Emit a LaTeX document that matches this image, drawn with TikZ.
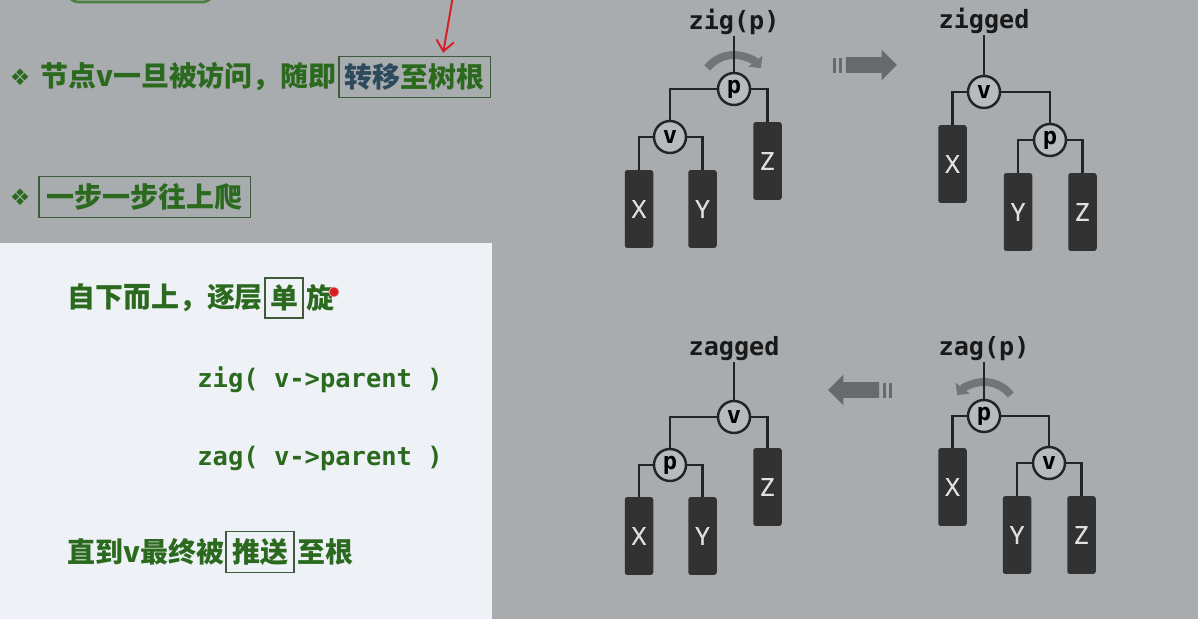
\documentclass[tikz,border=0pt]{standalone}
\usepackage{fontspec}
\usetikzlibrary{positioning}
\usetikzlibrary{arrows.meta}
\usetikzlibrary{shapes.arrows}
\newfontfamily\cjk{Noto Sans CJK SC}
\newfontfamily\code{DejaVu Sans Mono}
\newfontfamily\symf{DejaVu Sans}
\newfontfamily\subf{Open Sans}[FakeBold=1]
\definecolor{bgc}{RGB}{168,172,175}
\definecolor{panelc}{RGB}{238,242,247}
\definecolor{mgreen}{RGB}{43,106,30}
\definecolor{boxc}{RGB}{62,90,59}
\definecolor{linkc}{RGB}{44,74,92}
\definecolor{subc}{RGB}{50,50,50}
\definecolor{edgec}{RGB}{36,36,36}
\definecolor{keyc}{RGB}{184,187,189}
\definecolor{rotc}{RGB}{114,117,120}
\definecolor{goc}{RGB}{103,105,108}
\definecolor{penc}{RGB}{215,30,35}

\begin{document}
\begin{tikzpicture}[x=0.02cm, y=-0.02cm,
    txt/.style={inner sep=0pt, text=mgreen, font=\cjk\bfseries\fontsize{15.9}{18}\selectfont},
    boxed/.style={txt, draw=boxc, line width=0.9pt, inner xsep=0.12cm, inner ysep=0.14cm},
    cmd/.style={inner sep=0pt, text=mgreen, font=\code\bfseries\fontsize{14.5}{16}\selectfont},
    bullet/.style={inner sep=0pt, text=mgreen, font=\symf\fontsize{13}{13}\selectfont},
    lab/.style={inner sep=1pt, text=black!90, font=\code\bfseries\fontsize{14.3}{16}\selectfont},
    key/.style={draw=edgec, circle, line width=1.4pt, fill=keyc, minimum size=0.64cm, inner sep=0pt, font=\code\bfseries\fontsize{13.5}{13.5}\selectfont},
    sub/.style={fill=subc, rounded corners=1.5pt, minimum width=0.57cm, minimum height=1.56cm, inner sep=0pt, text=black!12, font=\subf\fontsize{14}{14}\selectfont},
    edge/.style={draw=edgec, line width=1.6pt},
    rot/.style={draw=rotc, line width=4.5pt, -{Triangle[length=5pt, width=10pt]}},
    go/.style={single arrow, fill=goc, minimum height=1.02cm, inner xsep=0pt, inner ysep=0.15cm, single arrow head extend=0.15cm},
    bar/.style={fill=goc, minimum width=0.06cm, minimum height=0.3cm, inner sep=0pt},
    penline/.style={draw=penc, line width=1.1pt, -{Straight Barb[length=6pt, width=10pt]}},
]
\useasboundingbox (0,0) rectangle (1198,619);
\clip (0,0) rectangle (1198,619);
\fill[bgc] (0,0) rectangle (1198,619);
\fill[panelc] (0,243) rectangle (492,619);
\draw[mgreen!85!white, line width=1.5pt, rounded corners=0.2cm] (68,-40) rectangle (213,2);

% left column
\node[bullet] (b1) at (20,77) {❖};
\node[txt, anchor=west] (t1) at (40,77) {节点v一旦被访问，随即};
\node[boxed, right=0.02cm of t1] (k1) {\textcolor{linkc}{转移}至树根};
\coordinate (pen0) at (453,-4);
\coordinate (pen1) at ([xshift=0.57cm, yshift=0.06cm]k1.north);
\draw[penline] (pen0) -- (pen1);

\node[bullet] (b2) at (20,197) {❖};
\node[boxed, anchor=west, inner xsep=0.16cm] (k2) at (38,197) {一步一步往上爬};

\node[txt, anchor=west] (t3) at (67,298) {自下而上，逐层};
\node[boxed, right=0.02cm of t3, inner xsep=0.1cm] (k3) {单};
\node[txt, right=0.04cm of k3] (t4) {旋};
\node[fill=penc, draw=penc!40, circle, minimum size=0.2cm, inner sep=0pt] (dot) at (334,292) {};

\node[cmd, anchor=west] (c1) at (197,380) {zig( v->parent )};
\node[cmd, anchor=west] (c2) at (197,458) {zag( v->parent )};

\node[txt, anchor=west] (t5) at (67,552) {直到v最终被};
\node[boxed, right=0.02cm of t5] (k5) {推送};
\node[txt, right=0.04cm of k5] (t6) {至根};

% zig(p)
\node[lab, anchor=base] (lzig) at (734,29) {zig(p)};
\node[key] (p1) at (734,89) {p};
\node[key] (v1) at (670,137) {v};
\node[sub] (x1) at (639,209) {X};
\node[sub] (y1) at (702.5,209) {Y};
\node[sub] (z1) at (767.5,161) {Z};
\draw[rot] ([shift={(-142:34)}]p1.center) arc[start angle=-142, end angle=-38, radius=34];
\draw[edge] (lzig) -- (p1);
\draw[edge] (p1) -| (v1);
\draw[edge] (p1) -| (z1);
\draw[edge] (v1) -| (x1);
\draw[edge] (v1) -| (y1);

\node[go] (go1) at (867.5,65) {};
\node[bar, left=0.06cm of go1.tail] (go1a) {};
\node[bar, left=0.06cm of go1a] (go1b) {};

% zigged
\node[lab, anchor=base] (lzigd) at (984,28) {zigged};
\node[key] (v2) at (984,92) {v};
\node[key] (p2) at (1050,140) {p};
\node[sub] (x2) at (952.5,164) {X};
\node[sub] (y2) at (1018,212) {Y};
\node[sub] (z2) at (1082.5,212) {Z};
\draw[edge] (lzigd) -- (v2);
\draw[edge] (v2) -| (x2);
\draw[edge] (v2) -| (p2);
\draw[edge] (p2) -| (y2);
\draw[edge] (p2) -| (z2);

% zagged
\node[lab, anchor=base] (lzagd) at (734,355) {zagged};
\node[key] (v3) at (734,417) {v};
\node[key] (p3) at (670,465) {p};
\node[sub] (x3) at (639,536) {X};
\node[sub] (y3) at (702.5,536) {Y};
\node[sub] (z3) at (767.5,487) {Z};
\draw[edge] (lzagd) -- (v3);
\draw[edge] (v3) -| (p3);
\draw[edge] (v3) -| (z3);
\draw[edge] (p3) -| (x3);
\draw[edge] (p3) -| (y3);

\node[go, shape border rotate=180] (go2) at (857.5,390) {};
\node[bar, right=0.06cm of go2.tail] (go2a) {};
\node[bar, right=0.06cm of go2a] (go2b) {};

% zag(p)
\node[lab, anchor=base] (lzag) at (984,355) {zag(p)};
\node[key] (p4) at (984,416) {p};
\node[key] (v4) at (1049,463) {v};
\node[sub] (x4) at (952.5,487) {X};
\node[sub] (y4) at (1017,535) {Y};
\node[sub] (z4) at (1081.5,535) {Z};
\draw[rot] ([shift={(-38:34)}]p4.center) arc[start angle=-38, end angle=-142, radius=34];
\draw[edge] (lzag) -- (p4);
\draw[edge] (p4) -| (x4);
\draw[edge] (p4) -| (v4);
\draw[edge] (v4) -| (y4);
\draw[edge] (v4) -| (z4);

\end{tikzpicture}
\end{document}
